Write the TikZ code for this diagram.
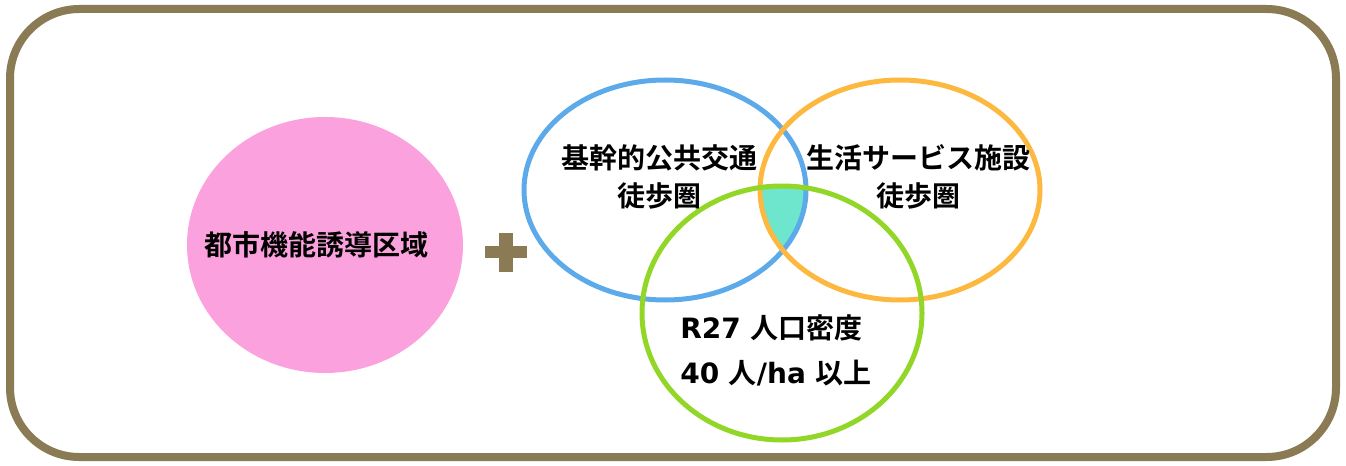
\documentclass[tikz,border=0pt]{standalone}
\usepackage{fontspec}
\usepackage{xcolor}
\newfontfamily\jp{Noto Sans CJK JP}[BoldFont={Noto Sans CJK JP Bold}]
\newfontfamily\lat{DejaVu Sans}[BoldFont={DejaVu Sans Bold}]
\newcommand{\ltn}[1]{{\lat\bfseries #1}}
\definecolor{framebrown}{HTML}{8B7B55}
\definecolor{zonepink}{HTML}{FBA2DE}
\definecolor{transblue}{HTML}{5DAAEB}
\definecolor{lifeorange}{HTML}{FDB840}
\definecolor{popgreen}{HTML}{92D628}
\definecolor{overlapteal}{HTML}{6EE5CD}

\begin{document}
\begin{tikzpicture}[x=0.75pt,y=0.75pt,
    lbl/.style={font=\jp\bfseries\fontsize{21}{28.5}\selectfont,align=center,inner sep=0pt},
    ring/.style={line width=3.75pt}]
        \useasboundingbox (0,0) rectangle (1346,465);
        \draw[framebrown,line width=6pt,rounded corners=52pt](10,8) rectangle (1336,456);
        % pink zone
        \fill[zonepink] (325,220) ellipse [x radius=138, y radius=128];
        \node[lbl] (zone) at (316,220) {都市機能誘導区域};
        % plus sign
        \fill[framebrown] (485,207) rectangle (527,219);
        \fill[framebrown] (499,193) rectangle (513,232);
        % overlap of the three circles
        \begin{scope}
            \clip (665,275) ellipse [x radius=141, y radius=110];
            \clip (900,275) ellipse [x radius=140, y radius=110];
            \fill[overlapteal] (782,152) ellipse [x radius=140, y radius=127];
        \end{scope}
        \draw[ring,transblue] (665,275) ellipse [x radius=141, y radius=110];
        \draw[ring,lifeorange] (900,275) ellipse [x radius=140, y radius=110];
        \draw[ring,popgreen] (782,152) ellipse [x radius=140, y radius=127];
        \node[lbl] (transit) at (659,288) {基幹的公共交通\\徒歩圏};
        \node[lbl] (life) at (918,288) {生活サービス施設\\徒歩圏};
        \node[lbl,align=left,anchor=west,font=\jp\bfseries\fontsize{21}{33.75}\selectfont] (pop) at (680,115)
            {\ltn{R27 }人口密度\\\ltn{40 }人\ltn{/ha }以上};
    \end{tikzpicture}
\end{document}
